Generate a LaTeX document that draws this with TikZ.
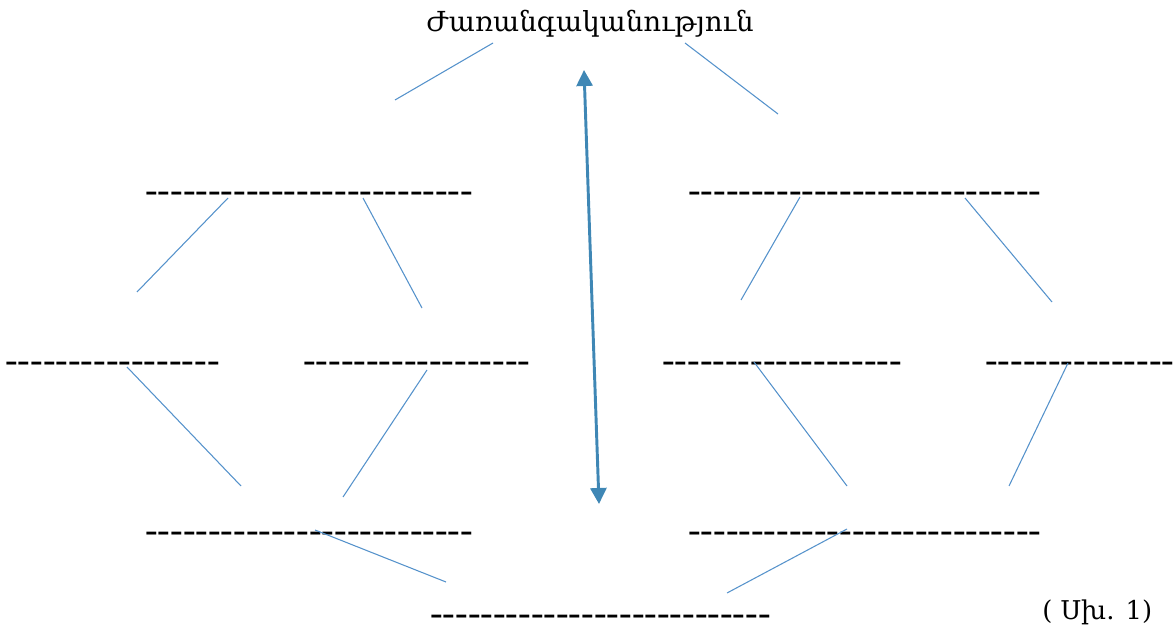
\documentclass[tikz,border=0pt]{standalone}
\usepackage{fontspec}
\setmainfont{Liberation Serif}
\newfontfamily\dashfont{Liberation Serif}
\newfontfamily\armfont{DejaVu Serif}
\usetikzlibrary{arrows.meta}
\definecolor{linkblue}{HTML}{5592CB}
\definecolor{arrowblue}{HTML}{3F87B5}

\begin{document}
\begin{tikzpicture}[
x=0.75pt,y=-0.75pt,
blank/.style={inner sep=0pt,anchor=base west,
font=\dashfont\fontsize{28.4}{32}\selectfont},
heading/.style={inner sep=0pt,anchor=base,
font=\armfont\fontsize{20.7}{26}\selectfont},
figno/.style={inner sep=0pt,anchor=base west,
font=\armfont\fontsize{19.4}{24}\selectfont},
link/.style={draw=linkblue,line width=0.8pt},
both/.style={{Triangle[width=12pt,length=12pt]}-{Triangle[width=12pt,length=12pt]},
draw=arrowblue,fill=arrowblue,line width=2.2pt}
]
\clip (0,0) rectangle (1173,634);

\node[heading] (ttl) at (590,32) {Ժառանգականություն};
\node[blank] (r1l) at (145,203) {--------------------------};
\node[blank] (r1r) at (688,203) {----------------------------};
\node[blank] (r2a) at (5,372) {-----------------};
\node[blank] (r2b) at (303,372) {------------------};
\node[blank] (r2c) at (662,372) {-------------------};
\node[blank] (r2d) at (985,372) {----------------};
\node[blank] (r3l) at (145,542) {--------------------------};
\node[blank] (r3r) at (688,542) {----------------------------};
\node[blank] (r4) at (430,625) {---------------------------};
\node[figno] (fig) at (1042,619) {( Սխ. 1)};

% free ends of the thin links
\coordinate (t1a) at (493,43);   \coordinate (t1b) at (395,100);
\coordinate (t2a) at (685,43);   \coordinate (t2b) at (778,114);
\coordinate (a1a) at (228,198);  \coordinate (a1b) at (137,292);
\coordinate (a2a) at (363,198);  \coordinate (a2b) at (422,308);
\coordinate (b1a) at (800,197);  \coordinate (b1b) at (741,300);
\coordinate (b2a) at (965,198);  \coordinate (b2b) at (1052,302);
\coordinate (c1a) at (127,367);  \coordinate (c1b) at (241,486);
\coordinate (c2a) at (427,370);  \coordinate (c2b) at (343,497);
\coordinate (c3a) at (754,362);  \coordinate (c3b) at (847,486);
\coordinate (c4a) at (1068,363); \coordinate (c4b) at (1009,486);
\coordinate (d1a) at (315,530);  \coordinate (d1b) at (446,582);
\coordinate (d2a) at (847,529);  \coordinate (d2b) at (727,593);
\coordinate (up) at (584,70);    \coordinate (dn) at (599,504);

\draw[link] (t1a) -- (t1b);
\draw[link] (t2a) -- (t2b);
\draw[link] (a1a) -- (a1b);
\draw[link] (a2a) -- (a2b);
\draw[link] (b1a) -- (b1b);
\draw[link] (b2a) -- (b2b);
\draw[link] (c1a) -- (c1b);
\draw[link] (c2a) -- (c2b);
\draw[link] (c3a) -- (c3b);
\draw[link] (c4a) -- (c4b);
\draw[link] (d1a) -- (d1b);
\draw[link] (d2a) -- (d2b);
\draw[both] (up) -- (dn);
\end{tikzpicture}
\end{document}
